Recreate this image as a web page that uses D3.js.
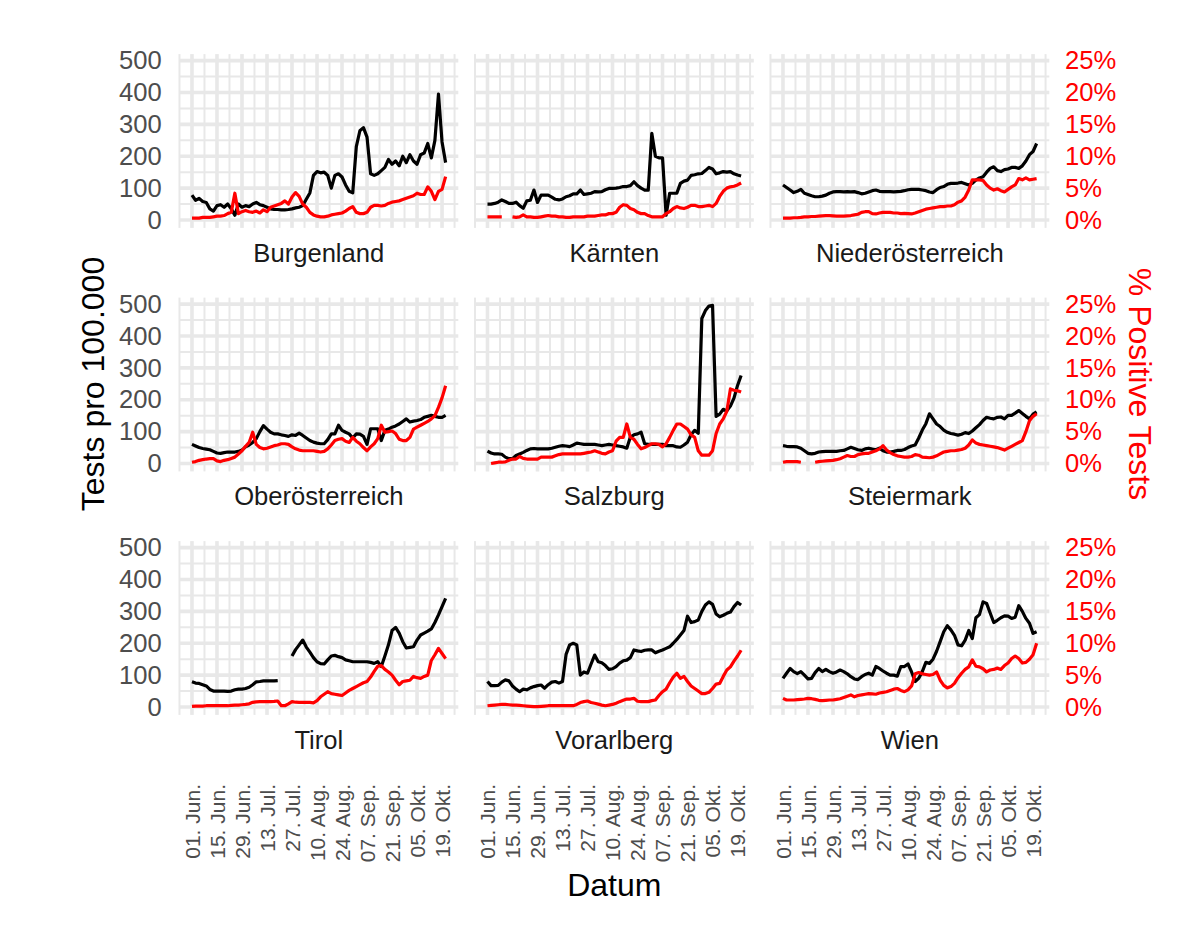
<!DOCTYPE html>
<html>
<head>
<meta charset="utf-8">
<script src="https://d3js.org/d3.v7.min.js"></script>
<style>
  body { margin: 0; background: #fff; }
  svg { display: block; font-family: "Liberation Sans", Arial, Helvetica, sans-serif; }
</style>
</head>
<body>
<svg id="chart" width="1200" height="931"></svg>
<script>
var states = ['Burgenland', 'Kärnten', 'Niederösterreich', 'Oberösterreich', 'Salzburg',
  'Steiermark', 'Tirol', 'Vorarlberg', 'Wien'];

// Tage seit 01.06.2020 (jeder zweite Tag)
var sampleDays = [0, 2, 4, 6, 8, 10, 12, 14, 16, 18, 20, 22, 24, 26, 28, 30, 32, 34, 36, 38,
  40, 42, 44, 46, 48, 50, 52, 54, 56, 58, 60, 62, 64, 66, 68, 70, 72, 74, 76, 78,
  80, 82, 84, 86, 88, 90, 92, 94, 96, 98, 100, 102, 104, 106, 108, 110, 112, 114, 116, 118,
  120, 122, 124, 126, 128, 130, 132, 134, 136, 138, 140, 142];

var tickDays = [0, 14, 28, 42, 56, 70, 84, 98, 112, 126, 140];
var tickLabels = ['01. Jun.', '15. Jun.', '29. Jun.', '13. Jul.', '27. Jul.', '10. Aug.',
  '24. Aug.', '07. Sep.', '21. Sep.', '05. Okt.', '19. Okt.'];
var testTicks = [0, 100, 200, 300, 400, 500];
var pctTicks = [0, 5, 10, 15, 20, 25];

// Tests pro 100.000
var testsBurgenland = [78, 62, 68, 58, 55, 35, 28, 45, 48, 40, 50, 35, 15, 50, 40, 45, 42, 50, 55, 48,
  45, 40, 35, 33, 33, 32, 32, 33, 35, 38, 40, 45, 65, 85, 140, 152, 148, 150, 140, 100,
  140, 145, 135, 110, 90, 85, 230, 280, 290, 260, 145, 140, 145, 155, 165, 190, 175, 185, 170, 200,
  180, 205, 185, 175, 205, 210, 240, 195, 250, 395, 245, 180];
var testsKaernten = [50, 50, 52, 56, 63, 58, 52, 52, 56, 45, 37, 60, 62, 94, 55, 78, 78, 78, 72, 65,
  63, 66, 73, 76, 82, 82, 94, 80, 82, 84, 89, 88, 89, 95, 99, 99, 100, 102, 105, 105,
  108, 120, 108, 100, 94, 94, 272, 200, 195, 195, 15, 84, 84, 84, 115, 122, 125, 140, 142, 145,
  146, 155, 165, 160, 145, 148, 152, 150, 152, 145, 141, 138];
var testsNoe = [110, 102, 94, 86, 90, 96, 84, 80, 76, 73, 73, 75, 78, 84, 88, 89, 89, 88, 89, 88,
  89, 86, 82, 84, 88, 92, 94, 90, 89, 89, 89, 88, 89, 90, 92, 95, 96, 96, 96, 94,
  92, 88, 86, 95, 102, 105, 112, 115, 115, 116, 118, 114, 110, 115, 125, 132, 136, 150, 162, 167,
  155, 152, 158, 160, 165, 165, 162, 170, 185, 205, 215, 240];
var testsOoe = [60, 55, 50, 47, 45, 43, 38, 33, 32, 34, 36, 36, 36, 38, 42, 52, 58, 66, 78, 100,
  119, 108, 98, 93, 93, 90, 88, 85, 90, 88, 95, 88, 80, 72, 67, 64, 62, 62, 75, 93,
  93, 120, 104, 98, 93, 80, 93, 92, 85, 60, 109, 109, 109, 72, 104, 108, 114, 118, 124, 132,
  140, 130, 133, 135, 138, 145, 148, 151, 148, 145, 145, 151];
var testsSalzburg = [39, 33, 30, 30, 29, 20, 15, 15, 25, 30, 35, 41, 46, 47, 46, 46, 46, 46, 48, 51,
  54, 56, 55, 53, 58, 64, 62, 60, 60, 60, 60, 58, 56, 58, 60, 58, 56, 54, 52, 48,
  83, 90, 93, 98, 62, 60, 60, 60, 60, 60, 56, 56, 56, 52, 51, 58, 67, 90, 104, 95,
  455, 480, 494, 496, 148, 155, 170, 165, 180, 205, 245, 276];
var testsSteiermark = [56, 54, 53, 53, 52, 48, 40, 32, 30, 32, 36, 37, 38, 38, 38, 38, 40, 41, 46, 51,
  47, 43, 41, 46, 48, 45, 43, 48, 40, 36, 36, 38, 41, 41, 44, 50, 55, 58, 80, 105,
  125, 156, 140, 124, 116, 105, 98, 94, 92, 89, 92, 97, 94, 102, 112, 122, 135, 145, 142, 140,
  145, 146, 140, 151, 151, 158, 166, 157, 148, 140, 155, 162];
var testsTirol = [79, 75, 74, 70, 66, 55, 50, 50, 50, 50, 49, 50, 54, 56, 56, 58, 62, 70, 79, 80,
  82, 82, 82, 82, 83, null, null, null, 160, 180, 195, 210, 188, 172, 155, 142, 136, 135, 148, 160,
  162, 158, 155, 148, 145, 142, 142, 142, 142, 142, 140, 137, 142, 127, 160, 195, 240, 250, 232, 205,
  185, 187, 189, 210, 226, 232, 238, 245, 265, 289, 315, 341];
var testsVorarlberg = [80, 67, 67, 68, 78, 85, 82, 66, 56, 48, 56, 54, 60, 64, 67, 69, 59, 70, 78, 80,
  75, 80, 165, 195, 200, 195, 100, 110, 106, 135, 163, 142, 139, 130, 118, 120, 127, 138, 145, 147,
  155, 179, 176, 174, 178, 179, 179, 170, 175, 179, 184, 189, 200, 212, 226, 240, 285, 265, 268, 273,
  300, 320, 330, 322, 292, 283, 288, 294, 298, 315, 328, 320];
var testsWien = [90, 106, 121, 111, 105, 111, 100, 88, 90, 108, 121, 111, 118, 111, 106, 110, 116, 111, 104, 95,
  88, 86, 95, 102, 106, 100, 127, 121, 113, 106, 100, 100, 97, 127, 127, 135, 110, 80, 90, 111,
  140, 137, 150, 175, 205, 236, 255, 242, 225, 195, 192, 210, 240, 215, 280, 290, 330, 325, 295, 265,
  272, 280, 286, 285, 278, 282, 318, 300, 278, 263, 231, 236];

// % positive Tests
var posBurgenland = [0.3, 0.3, 0.3, 0.4, 0.4, 0.4, 0.5, 0.6, 0.6, 0.7, 1.0, 1.2, 4.2, 1.0, 1.3, 1.5, 1.3, 1.2, 1.4, 1.1,
  1.6, 1.3, 2.0, 2.2, 2.4, 2.6, 3.0, 2.5, 3.6, 4.3, 3.7, 2.5, 2.0, 1.2, 0.8, 0.6, 0.5, 0.5, 0.6, 0.8,
  0.9, 1.0, 1.1, 1.4, 1.8, 2.1, 1.2, 1.0, 1.0, 1.2, 2.0, 2.3, 2.3, 2.2, 2.3, 2.6, 2.8, 2.9, 3.0, 3.2,
  3.4, 3.6, 3.8, 4.2, 4.0, 4.0, 5.2, 4.5, 3.2, 4.5, 4.8, 6.8];
var posKaernten = [0.5, 0.5, 0.5, 0.5, 0.5, null, null, 0.5, 0.4, 0.5, 0.8, 0.5, 0.5, 0.4, 0.4, 0.5, 0.6, 0.7, 0.6, 0.6,
  0.5, 0.5, 0.4, 0.4, 0.5, 0.5, 0.5, 0.5, 0.6, 0.6, 0.6, 0.7, 0.8, 0.8, 1.0, 1.0, 1.2, 2.0, 2.4, 2.3,
  1.8, 1.6, 1.2, 1.0, 1.0, 0.7, 0.5, 0.5, 0.5, 0.5, 1.0, 1.3, 1.8, 2.1, 1.9, 1.8, 2.0, 2.3, 2.3, 2.1,
  2.1, 2.2, 2.3, 2.1, 2.6, 3.7, 4.5, 5.0, 5.2, 5.3, 5.5, 5.8];
var posNoe = [0.3, 0.3, 0.3, 0.35, 0.35, 0.4, 0.5, 0.5, 0.55, 0.55, 0.6, 0.65, 0.7, 0.7, 0.65, 0.6, 0.6, 0.6, 0.65, 0.7,
  0.8, 0.9, 1.2, 1.3, 1.3, 1.0, 0.95, 1.1, 1.2, 1.2, 1.2, 1.1, 1.1, 1.0, 1.05, 1.0, 0.95, 1.1, 1.3, 1.5,
  1.7, 1.8, 1.9, 2.0, 2.1, 2.1, 2.2, 2.2, 2.4, 2.8, 3.0, 3.6, 4.7, 6.3, 6.3, 6.3, 6.2, 5.5, 5.0, 4.7,
  4.9, 4.6, 4.4, 4.8, 5.2, 5.5, 6.5, 6.3, 6.6, 6.3, 6.4, 6.5];
var posOoe = [0.2, 0.3, 0.5, 0.6, 0.7, 0.75, 0.75, 0.4, 0.3, 0.5, 0.6, 0.8, 1.0, 1.5, 2.0, 2.7, 3.3, 4.9, 3.0, 2.5,
  2.3, 2.4, 2.6, 2.8, 2.9, 3.1, 3.1, 3.0, 2.6, 2.3, 2.1, 2.0, 2.0, 2.0, 2.0, 1.9, 1.8, 1.9, 2.3, 2.9,
  3.6, 3.8, 3.9, 3.5, 3.3, 4.1, 3.5, 3.1, 2.5, 2.0, 2.6, 3.1, 3.9, 6.0, 4.9, 5.0, 5.1, 4.7, 3.8, 3.6,
  3.6, 4.1, 5.4, 5.7, 6.0, 6.3, 6.6, 7.0, 7.5, 8.8, 10.3, 12.2];
var posSalzburg = [null, 0.0, 0.1, 0.2, 0.2, 0.25, 0.5, 0.7, 0.7, 1.1, 0.8, 0.7, 0.7, 0.7, 0.7, 1.0, 1.0, 1.0, 1.0, 1.2,
  1.4, 1.5, 1.5, 1.5, 1.5, 1.5, 1.5, 1.6, 1.7, 1.8, 2.0, 1.8, 1.6, 1.5, 1.8, 2.0, 3.5, 4.1, 4.1, 6.2,
  4.1, 3.8, 3.0, 2.3, 2.5, 2.8, 3.1, 3.1, 3.0, 2.6, 3.1, 4.1, 5.2, 6.2, 6.2, 5.8, 5.4, 4.5, 4.1, 2.0,
  1.3, 1.3, 1.3, 2.0, 4.7, 6.2, 7.0, 8.2, 11.7, 11.5, 11.4, 11.2];
var posSteiermark = [0.2, 0.3, 0.3, 0.3, 0.3, 0.2, null, null, null, 0.2, 0.3, 0.35, 0.4, 0.45, 0.5, 0.6, 0.75, 1.0, 1.25, 1.1,
  1.1, 1.4, 1.5, 1.6, 1.6, 1.8, 2.0, 2.3, 2.8, 2.1, 1.7, 1.4, 1.2, 1.1, 1.0, 1.0, 1.1, 1.4, 1.3, 1.0,
  0.95, 0.9, 1.0, 1.2, 1.5, 1.8, 1.9, 2.0, 2.0, 2.1, 2.2, 2.4, 2.9, 3.7, 3.2, 3.0, 2.9, 2.8, 2.7, 2.6,
  2.5, 2.3, 2.1, 2.4, 2.7, 3.0, 3.3, 3.6, 5.0, 6.7, 7.4, 7.8];
var posTirol = [0.1, 0.15, 0.15, 0.15, 0.2, 0.2, 0.2, 0.2, 0.2, 0.2, 0.2, 0.25, 0.3, 0.3, 0.35, 0.4, 0.5, 0.73, 0.8, 0.84,
  0.84, 0.84, 0.84, 0.88, 0.94, 0.2, 0.2, 0.5, 0.84, 0.75, 0.73, 0.73, 0.73, 0.73, 0.65, 1.0, 1.6, 2.0, 2.4, 2.1,
  2.0, 1.9, 1.8, 2.2, 2.6, 2.9, 3.2, 3.5, 3.8, 4.0, 4.7, 5.6, 6.4, 6.5, 5.9, 5.5, 5.0, 4.2, 3.5, 4.0,
  4.1, 4.2, 4.8, 4.6, 4.5, 4.8, 5.0, 7.3, 8.2, 9.2, 8.4, 7.6];
var posVorarlberg = [0.2, 0.25, 0.3, 0.35, 0.4, 0.4, 0.35, 0.3, 0.3, 0.25, 0.2, 0.15, 0.1, 0.05, 0.05, 0.1, 0.15, 0.2, 0.2, 0.2,
  0.2, 0.2, 0.2, 0.2, 0.2, 0.4, 0.7, 0.85, 0.94, 0.7, 0.58, 0.45, 0.3, 0.2, 0.3, 0.4, 0.6, 0.84, 1.05, 1.25,
  1.25, 1.36, 0.9, 0.84, 0.84, 0.84, 1.0, 1.1, 1.8, 2.4, 2.8, 3.8, 4.7, 5.3, 4.5, 4.8, 4.0, 3.3, 2.9, 2.5,
  2.1, 2.1, 2.3, 2.9, 3.6, 3.7, 4.8, 5.8, 6.3, 7.2, 8.0, 8.9];
var posWien = [1.36, 1.1, 1.1, 1.1, 1.15, 1.2, 1.25, 1.36, 1.3, 1.2, 1.05, 1.0, 1.05, 1.1, 1.1, 1.2, 1.3, 1.5, 1.7, 1.9,
  1.6, 1.8, 1.9, 2.0, 2.1, 2.05, 2.0, 2.2, 2.3, 2.4, 2.6, 2.8, 2.9, 2.6, 2.4, 2.7, 3.3, 5.2, 5.4, 5.2,
  5.1, 5.0, 5.1, 5.5, 4.2, 3.4, 3.0, 3.2, 3.7, 4.6, 5.3, 5.9, 6.3, 7.4, 6.4, 6.3, 6.0, 5.5, 5.8, 5.9,
  6.1, 5.9, 6.5, 6.9, 7.6, 8.0, 7.6, 6.9, 7.0, 7.5, 8.2, 10.0];

var panels = [
  {name: states[0], tests: testsBurgenland, pos: posBurgenland},
  {name: states[1], tests: testsKaernten, pos: posKaernten},
  {name: states[2], tests: testsNoe, pos: posNoe},
  {name: states[3], tests: testsOoe, pos: posOoe},
  {name: states[4], tests: testsSalzburg, pos: posSalzburg},
  {name: states[5], tests: testsSteiermark, pos: posSteiermark},
  {name: states[6], tests: testsTirol, pos: posTirol},
  {name: states[7], tests: testsVorarlberg, pos: posVorarlberg},
  {name: states[8], tests: testsWien, pos: posWien}
];

var startDate = new Date(2020, 5, 1),
  panelW = 279,
  panelH = 173.8,
  colX = [179.3, 474.8, 770.3],
  rowY = [54.1, 297.6, 541.1],
  gridCol = '#e8e8e8',
  axisCol = '#4d4d4d',
  svg = d3.select('#chart');

function dayToDate(d) {
  return new Date(startDate.getTime() + d * 864e5);
}

var x = d3.scaleTime()
  .domain([dayToDate(-7.1), dayToDate(149.1)])
  .range([0, panelW]);

var y = d3.scaleLinear()
  .domain([-24.8, 520.6])
  .range([panelH, 0]);

// rechte Achse: 5% entsprechen 100 Tests
var yPct = d3.scaleLinear()
  .domain([-24.8 / 20, 520.6 / 20])
  .range([panelH, 0]);

var minorX = d3.range(-7, 150, 14),
  minorY = [50, 150, 250, 350, 450];

function makeLine(scale) {
  return d3.line()
    .defined(function (d) { return d.v !== null; })
    .x(function (d) { return x(d.date); })
    .y(function (d) { return scale(d.v); });
}

function toPoints(values) {
  return values.map(function (v, i) {
    return {date: dayToDate(sampleDays[i]), v: v};
  });
}

function cleanAxis(a) {
  a.attr('font-size', null).attr('font-family', null);
  a.select('.domain').remove();
  a.selectAll('.tick line').remove();
}

panels.forEach(function (p, i) {
  var col = i % 3,
    row = Math.floor(i / 3),
    g = svg.append('g').attr('transform', 'translate(' + colX[col] + ',' + rowY[row] + ')');

  // minor grid
  g.selectAll('.vminor').data(minorX).enter().append('line')
    .attr('x1', function (d) { return x(dayToDate(d)); })
    .attr('x2', function (d) { return x(dayToDate(d)); })
    .attr('y1', 0).attr('y2', panelH)
    .attr('stroke', gridCol).attr('stroke-width', 2);
  g.selectAll('.hminor').data(minorY).enter().append('line')
    .attr('x1', 0).attr('x2', panelW)
    .attr('y1', function (d) { return y(d); })
    .attr('y2', function (d) { return y(d); })
    .attr('stroke', gridCol).attr('stroke-width', 2);

  // major grid
  g.selectAll('.vmajor').data(tickDays).enter().append('line')
    .attr('x1', function (d) { return x(dayToDate(d)); })
    .attr('x2', function (d) { return x(dayToDate(d)); })
    .attr('y1', 0).attr('y2', panelH)
    .attr('stroke', gridCol).attr('stroke-width', 3.6);
  g.selectAll('.hmajor').data(testTicks).enter().append('line')
    .attr('x1', 0).attr('x2', panelW)
    .attr('y1', function (d) { return y(d); })
    .attr('y2', function (d) { return y(d); })
    .attr('stroke', gridCol).attr('stroke-width', 3.6);

  g.append('path')
    .datum(toPoints(p.tests))
    .attr('fill', 'none')
    .attr('stroke', '#000')
    .attr('stroke-width', 3.2)
    .attr('stroke-linejoin', 'round')
    .attr('d', makeLine(y));

  g.append('path')
    .datum(toPoints(p.pos))
    .attr('fill', 'none')
    .attr('stroke', '#ff0000')
    .attr('stroke-width', 3.2)
    .attr('stroke-linejoin', 'round')
    .attr('d', makeLine(yPct));

  // strip unten
  g.append('text')
    .attr('x', panelW / 2)
    .attr('y', panelH + 25)
    .attr('dy', '0.35em')
    .attr('text-anchor', 'middle')
    .attr('font-size', 25.6)
    .attr('fill', '#1a1a1a')
    .text(p.name);

  if (col === 0) {
    g.append('g')
      .call(d3.axisLeft(y).tickValues(testTicks).tickSize(0).tickPadding(17.6))
      .call(cleanAxis)
      .selectAll('text')
      .attr('font-size', 25.6)
      .attr('fill', axisCol);
  }

  if (col === 2) {
    g.append('g')
      .attr('transform', 'translate(' + panelW + ',0)')
      .call(d3.axisRight(yPct).tickValues(pctTicks).tickSize(0).tickPadding(15.7)
        .tickFormat(function (d) { return d + '%'; }))
      .call(cleanAxis)
      .selectAll('text')
      .attr('font-size', 25.6)
      .attr('fill', '#ff0000');
  }

  if (row === 2) {
    g.append('g')
      .attr('transform', 'translate(0,' + (784 - rowY[row]) + ')')
      .call(d3.axisBottom(x).tickValues(tickDays.map(dayToDate)).tickSize(0)
        .tickFormat(function (d, k) { return tickLabels[k]; }))
      .call(cleanAxis)
      .selectAll('text')
      .attr('x', 0)
      .attr('y', 0)
      .attr('dy', '0.35em')
      .attr('transform', 'rotate(-90)')
      .attr('text-anchor', 'end')
      .attr('font-size', 21)
      .attr('fill', axisCol);
  }
});

// Achsentitel
svg.append('text')
  .attr('transform', 'translate(93,384) rotate(-90)')
  .attr('dy', '0.35em')
  .attr('text-anchor', 'middle')
  .attr('font-size', 32)
  .attr('fill', '#000')
  .text('Tests pro 100.000');

svg.append('text')
  .attr('transform', 'translate(1140,384) rotate(90)')
  .attr('dy', '0.35em')
  .attr('text-anchor', 'middle')
  .attr('font-size', 32)
  .attr('fill', '#ff0000')
  .text('% Positive Tests');

svg.append('text')
  .attr('x', (colX[0] + colX[2] + panelW) / 2)
  .attr('y', 885)
  .attr('dy', '0.35em')
  .attr('text-anchor', 'middle')
  .attr('font-size', 32)
  .attr('fill', '#000')
  .text('Datum');
</script>
</body>
</html>
